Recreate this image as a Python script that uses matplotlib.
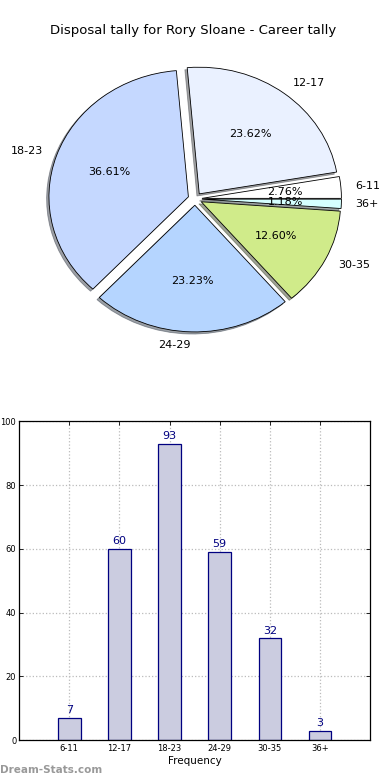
import matplotlib
matplotlib.use("Agg")
import matplotlib.pyplot as plt

categories = ["6-11", "12-17", "18-23", "24-29", "30-35", "36+"]
counts = [7, 60, 93, 59, 32, 3]
pie_colors = ["#ffffff", "#eaf1ff", "#c5d8ff", "#b5d5ff", "#d0eb8a", "#d5ffff"]
explode = [0.05, 0.05, 0.05, 0.05, 0.05, 0.05]
title = "Disposal tally for Rory Sloane - Career tally"

fig = plt.figure(figsize=(3.9, 7.8), dpi=100)

# pie (old-style, not forced to equal aspect)
ax1 = fig.add_axes([0.053, 0.542, 0.894, 0.406])
wedges, texts, autotexts = ax1.pie(
    counts, labels=categories, colors=pie_colors, explode=explode,
    autopct="%1.2f%%", startangle=0,
    shadow={"ox": -0.012, "oy": -0.012, "shade": 0.7},
    wedgeprops={"edgecolor": "black", "linewidth": 0.6},
    textprops={"fontsize": 8})
ax1.set_aspect("auto")
ax1.set_xlim(-1.25, 1.25)
ax1.set_ylim(-1.25, 1.25)
fig.text(0.495, 0.961, title, ha="center", va="center", fontsize=9.5)

# bar chart
ax2 = fig.add_axes([0.049, 0.051, 0.9, 0.409])
xs = range(1, len(categories) + 1)
ax2.bar(xs, counts, width=0.45, color="#cbcce0", edgecolor="#000080",
        linewidth=0.9, zorder=2)
for x, v in zip(xs, counts):
    ax2.text(x, v + 0.8, str(v), ha="center", va="bottom", fontsize=8,
             color="#000080")
ax2.set_xlim(0, 7)
ax2.set_ylim(0, 100)
ax2.set_xticks(list(xs))
ax2.set_xticklabels(categories, fontsize=6)
ax2.set_yticks(range(0, 101, 20))
ax2.tick_params(axis="y", labelsize=6, pad=2)
ax2.tick_params(axis="x", pad=3)
ax2.tick_params(direction="in", top=True, right=True, length=3, width=0.6)
ax2.grid(True, linestyle=":", color="#bbbbbb", linewidth=0.9, zorder=0)
ax2.set_axisbelow(True)
ax2.set_xlabel("Frequency", fontsize=7.5, labelpad=2)
for s in ax2.spines.values():
    s.set_linewidth(0.9)

fig.text(0.0, 0.013, "Dream-Stats.com", fontsize=7.5, color="#999999",
         fontweight="bold", ha="left", va="center")

fig.savefig("out.png", dpi=100)
